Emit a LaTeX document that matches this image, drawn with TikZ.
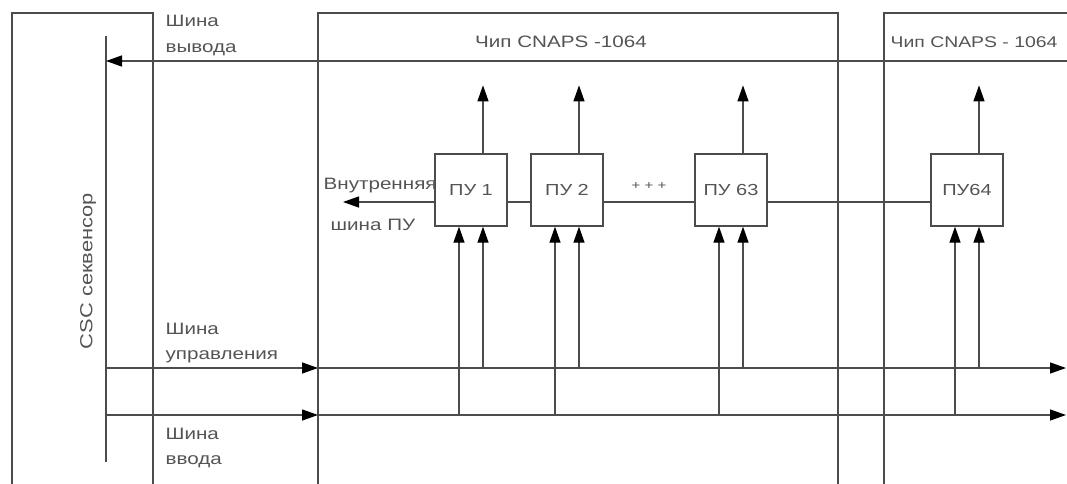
\documentclass[tikz,border=0pt]{standalone}
\usepackage{fontspec}
\setmainfont{Liberation Sans}[FakeStretch=1.25]
\usetikzlibrary{arrows.meta, calc}

\definecolor{linegray}{gray}{0.3}
\definecolor{textgray}{gray}{0.33}

\begin{document}
\begin{tikzpicture}[
    x=1pt, y=-1pt, % one unit = one pixel of the sketch, y grows downwards
    >={Triangle[length=16pt, width=11pt, color=black]}, % filled arrow tips
    color=linegray, line width=1.3pt,
    pu/.style={draw, minimum width=72pt, minimum height=72pt,
        inner sep=0pt, text=textgray, font=\fontsize{16}{20}\selectfont}, % processor unit
    lbl/.style={text=textgray, font=\fontsize{16.5}{25}\selectfont, align=left, inner sep=0pt}
]

% Frame
\useasboundingbox (0,0) rectangle (1067,484);
\clip (0,0) rectangle (1067,484);

% Sequencer, chips
\draw (12,500) -- (12,13) -- (153,13) -- (153,500);
\draw (318,500) -- (318,13) -- (838,13) -- (838,500);
\draw (884,500) -- (884,13) -- (1090,13);
\draw (106,36) -- (106,462);
\node[lbl, rotate=90, font=\fontsize{17.5}{20}\selectfont] (seq) at (88,271) {CSC секвенсор};
\node[lbl] (chipA) at (561,42) {Чип CNAPS -1064};
\node[lbl, anchor=west, font=\fontsize{15.5}{20}\selectfont] (chipB) at (890,42) {Чип CNAPS - 1064};

% Bus coordinates
\coordinate (outR) at (1067,61);
\coordinate (outL) at (106,61);
\coordinate (ctlL) at (106,368);
\coordinate (ctlM) at (318,368);
\coordinate (ctlR) at (1066,368);
\coordinate (inL)  at (106,415);
\coordinate (inM)  at (318,415);
\coordinate (inR)  at (1066,415);
\coordinate (ib)   at (0,202); % level of the internal bus
\coordinate (ibL)  at (343,202);

% Buses
\draw[->] (outR) -- (outL);
\draw[->] (ctlL) -- (ctlM);
\draw[->] (ctlM) -- (ctlR);
\draw[->] (inL) -- (inM);
\draw[->] (inM) -- (inR);

% Processor units
\node[pu] (pu1)  at (471,190) {ПУ 1};
\node[pu] (pu2)  at (567,190) {ПУ 2};
\node[pu] (pu63) at (731,190) {ПУ 63};
\node[pu] (pu64) at (967,190) {ПУ64};

% Inputs and outputs of each unit
\foreach \p in {pu1, pu2, pu63, pu64} {
    \coordinate (\p-a) at ($(\p.south)+(-12,0)$);
    \coordinate (\p-b) at ($(\p.south)+(12,0)$);
    \draw[->] (\p-a |- inL) -- (\p-a);
    \draw[->] (\p-b |- ctlL) -- (\p-b);
    \draw[->] (\p-b |- \p.north) -- ++(0,-68);
}

% Internal bus
\draw[->] (pu1.west |- ib) -- (ibL);
\draw (pu1.east |- ib) -- (pu2.west |- ib);
\draw (pu2.east |- ib) -- (pu63.west |- ib);
\draw (pu63.east |- ib) -- (pu64.west |- ib);
\node[text=textgray, font=\fontsize{12}{12}\selectfont] (gap) at (649,186) {+ + +};

% Labels
\node[lbl, anchor=north west] (outlbl) at (165,15) {Шина\\вывода};
\node[lbl, anchor=north west] (ctllbl) at (165,322) {Шина\\управления};
\node[lbl, anchor=north west] (inlbl)  at (165,427) {Шина\\ввода};
\node[lbl, anchor=north west] (iblbl)  at (323,177) {Внутренняя};
\node[lbl, anchor=north west] (iblbl2) at (330,218) {шина ПУ};

\end{tikzpicture}
\end{document}
